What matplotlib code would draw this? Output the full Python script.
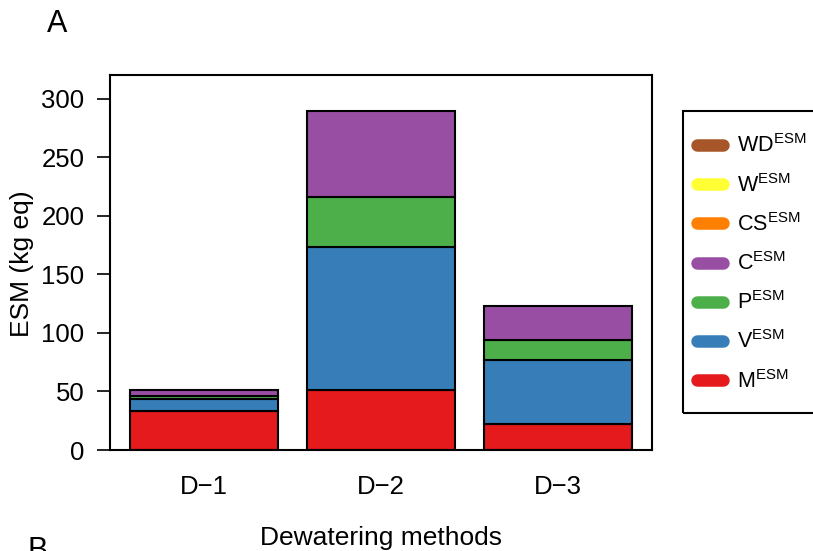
import matplotlib
matplotlib.use("Agg")
import matplotlib.pyplot as plt
from matplotlib.lines import Line2D
from matplotlib.patches import Rectangle
import numpy as np

plt.rcParams['font.family'] = ['Liberation Sans', 'DejaVu Sans']
plt.rcParams['mathtext.fontset'] = 'custom'
plt.rcParams['mathtext.rm'] = 'Liberation Sans'
plt.rcParams['mathtext.it'] = 'Liberation Sans:italic'
plt.rcParams['mathtext.bf'] = 'Liberation Sans:bold'

categories = ["D\u22121", "D\u22122", "D\u22123"]
M = [33, 51, 22]
V = [11, 122.5, 55]
P = [2.5, 43, 17]
C = [4.5, 73.5, 29]
CS = [0, 0, 0]
W = [0, 0, 0]
WD = [0, 0, 0]

series_names = ["M", "V", "P", "C", "CS", "W", "WD"]
series_values = [M, V, P, C, CS, W, WD]
colors = ["#E41A1C", "#377EB8", "#4DAF4A", "#984EA3", "#FF7F00", "#FFFF33", "#A65628"]
yticks = [0, 50, 100, 150, 200, 250, 300]

W_PX, H_PX = 813, 551
fig = plt.figure(figsize=(W_PX / 100, H_PX / 100), dpi=100)

def fx(px):
    return px / W_PX

def fy(py):
    return 1 - py / H_PX

ax = fig.add_axes([fx(110), fy(450), fx(652) - fx(110), fy(75) - fy(450)])

x = np.arange(len(categories)) * 1.2
bottom = np.zeros(len(categories))
for name, vals, col in zip(series_names, series_values, colors):
    vals = np.array(vals, dtype=float)
    if vals.sum() > 0:
        ax.bar(x, vals, width=1.0, bottom=bottom, color=col,
               edgecolor='black', linewidth=1.5, zorder=2)
    bottom += vals

ax.set_xlim(-0.636, 2.4 + 0.636)
ax.set_ylim(0, 320.5)
ax.set_xticks(x)
ax.set_xticklabels(categories, fontsize=18.5)
ax.tick_params(axis='x', length=0, pad=18)
ax.set_yticks(yticks)
ax.set_yticklabels([str(t) for t in yticks], fontsize=18.5)
ax.tick_params(axis='y', length=9.4, width=1.2, pad=9, direction='out')
for s in ax.spines.values():
    s.set_linewidth(1.5)

fig.text(fx(381), fy(538), "Dewatering methods", fontsize=19, ha='center', va='center')
fig.text(fx(22), fy(264), "ESM (kg eq)", fontsize=19, ha='center', va='center', rotation=90)
fig.text(fx(57), fy(24), "A", fontsize=22, ha='center', va='center')
fig.text(fx(38), fy(536), "B", fontsize=22, ha='center', va='top')

# legend (manual, box extends beyond the right edge)
fig.add_artist(Rectangle((fx(683), fy(413)), fx(830) - fx(683), fy(111) - fy(413),
                         transform=fig.transFigure, fill=False, edgecolor='black',
                         linewidth=1.5, clip_on=False))
leg_order = list(range(len(series_names)))[::-1]
y0 = 145
step = 39.2
for i, idx in enumerate(leg_order):
    yy = y0 + i * step
    fig.add_artist(Line2D([fx(697), fx(723)], [fy(yy), fy(yy)], transform=fig.transFigure,
                          color=colors[idx], linewidth=9, solid_capstyle='round'))
    fig.text(fx(737), fy(yy + 1), series_names[idx] + r"$^{\mathrm{ESM}}$", fontsize=15.5,
             ha='left', va='center')

fig.savefig("out.png", dpi=100)
